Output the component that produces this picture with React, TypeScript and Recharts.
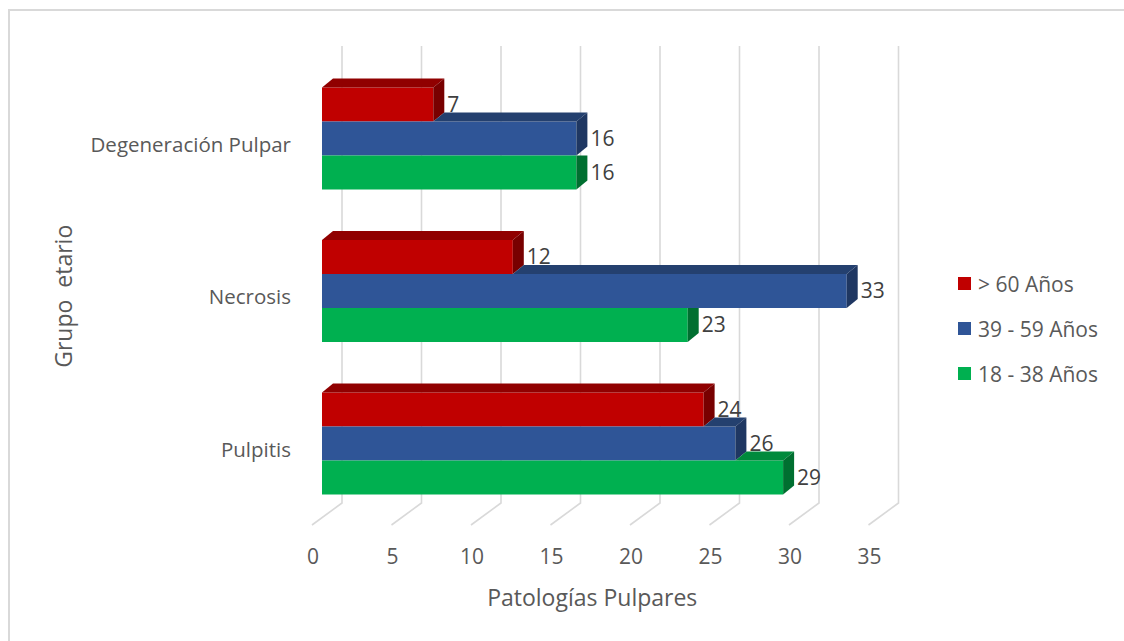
import { Bar, BarChart, CartesianGrid, LabelList, XAxis, YAxis } from 'recharts';

// Categorías (de arriba abajo) y valores por grupo etario
const CATEGORIES = ['Degeneración Pulpar', 'Necrosis', 'Pulpitis'];
const OVER_60 = [7, 12, 24];
const AGE_39_59 = [16, 33, 26];
const AGE_18_38 = [16, 23, 29];
const X_TICKS = [0, 5, 10, 15, 20, 25, 30, 35];

const SERIES = [
  { key: 'over60', name: '> 60 Años', front: '#C00000', top: '#900000', side: '#780000', upper: null },
  { key: 'mid', name: '39 - 59 Años', front: '#2F5597', top: '#24406F', side: '#1F3762', upper: 'over60' },
  { key: 'young', name: '18 - 38 Años', front: '#00B050', top: '#008A3C', side: '#006F30', upper: 'mid' },
] as const;

const rows = CATEGORIES.map((category, i) => ({
  category,
  over60: OVER_60[i],
  mid: AGE_39_59[i],
  young: AGE_18_38[i],
}));

const FONT = '"Open Sans", "Noto Sans", sans-serif';
const DX = 11; // profundidad 3D
const DY = 9;

function makeShape(s: (typeof SERIES)[number]) {
  return (props: any) => {
    const { x, y, width, height, payload } = props;
    if (width == null || width <= 0) return <g />;
    const right = x + width;
    const value = payload[s.key];
    const upperVal = s.upper ? payload[s.upper] : null;
    const ratio = upperVal != null ? upperVal / value : 0;
    const xs = upperVal != null ? x + width * ratio : x;
    const topFace =
      xs < right
        ? `M${xs},${y} L${xs + DX},${y - DY} L${right + DX},${y - DY} L${right},${y} Z`
        : null;
    const sideFace =
      upperVal != null && ratio >= 1
        ? `M${right},${y} L${right + DX},${y} L${right + DX},${y + height - DY} L${right},${y + height} Z`
        : `M${right},${y} L${right + DX},${y - DY} L${right + DX},${y + height - DY} L${right},${y + height} Z`;
    return (
      <g>
        <rect x={x} y={y} width={width} height={height} fill={s.front} />
        {topFace && <path d={topFace} fill={s.top} />}
        <path d={sideFace} fill={s.side} />
      </g>
    );
  };
}

function GridLine(props: any) {
  const { x1, y1, y2 } = props;
  const d = `M${x1 + 20},${y1 - 16.5} L${x1 + 20},${y2 - 17} L${x1 - 10},${y2 + 5}`;
  return <path d={d} fill="none" stroke="#D9D9D9" strokeWidth={1.6} />;
}

function XTick(props: any) {
  const { x, y, payload } = props;
  return (
    <text x={x - 9} y={y + 36} textAnchor="middle" dominantBaseline="central" fill="#595959" fontSize={21} fontFamily={FONT}>
      {payload.value}
    </text>
  );
}

function YTick(props: any) {
  const { x, y, payload } = props;
  return (
    <text x={x - 31} y={y + 5} textAnchor="end" dominantBaseline="central" fill="#595959" fontSize={20.5} fontFamily={FONT}>
      {payload.value}
    </text>
  );
}

function LegendBox() {
  return (
    <div style={{ position: 'absolute', left: 958, top: 261, fontFamily: FONT, fontSize: 21, color: '#595959' }}>
      {SERIES.map((s) => (
        <div key={s.key} style={{ display: 'flex', alignItems: 'center', height: 45, whiteSpace: 'nowrap' }}>
          <span style={{ width: 13, height: 13, background: s.front, display: 'inline-block', marginRight: 7 }} />
          <span>{s.name}</span>
        </div>
      ))}
    </div>
  );
}

export default function App() {
  return (
    <div style={{ position: 'absolute', left: 0, top: 0, width: 1124, height: 641, background: '#fff', overflow: 'hidden' }}>
      <div
        style={{
          position: 'absolute',
          left: 8,
          top: 9,
          width: 1130,
          height: 650,
          borderLeft: '2px solid #D9D9D9',
          borderTop: '2px solid #D9D9D9',
        }}
      />
      <BarChart
        width={1124}
        height={641}
        data={rows}
        layout="vertical"
        margin={{ top: 62.5, right: 245.5, bottom: 0, left: 0 }}
        barSize={34}
        barGap={0}
        style={{ position: 'absolute', left: 0, top: 0 }}
      >
        <CartesianGrid horizontal={false} vertical={(p: any) => <GridLine key={p.key} {...p} />} />
        <XAxis
          type="number"
          domain={[0, 35]}
          ticks={X_TICKS}
          height={121}
          axisLine={false}
          tickLine={false}
          tickSize={0}
          tickMargin={0}
          tick={<XTick />}
          label={(p: any) => {
            const vb = p.viewBox;
            return (
              <text x={vb.x + vb.width / 2 - 8} y={vb.y + 77} textAnchor="middle" dominantBaseline="central" fill="#595959" fontSize={23} fontFamily={FONT}>
                Patologías Pulpares
              </text>
            );
          }}
        />
        <YAxis
          type="category"
          dataKey="category"
          width={322}
          axisLine={false}
          tickLine={false}
          tickSize={0}
          tickMargin={0}
          tick={<YTick />}
          label={(p: any) => {
            const vb = p.viewBox;
            const cy = vb.y + vb.height / 2 + 5;
            return (
              <text
                x={63}
                y={cy}
                transform={`rotate(-90 63 ${cy})`}
                textAnchor="middle"
                dominantBaseline="central"
                fill="#595959"
                fontSize={23}
                fontFamily={FONT}
                style={{ whiteSpace: 'pre' }}
              >
                {'Grupo  etario'}
              </text>
            );
          }}
        />
        {SERIES.map((s) => (
          <Bar key={s.key} dataKey={s.key} name={s.name} fill={s.front} shape={makeShape(s)} isAnimationActive={false}>
            <LabelList dataKey={s.key} position="right" offset={14} fill="#404040" fontSize={21} fontFamily={FONT} />
          </Bar>
        ))}
      </BarChart>
      <LegendBox />
    </div>
  );
}
